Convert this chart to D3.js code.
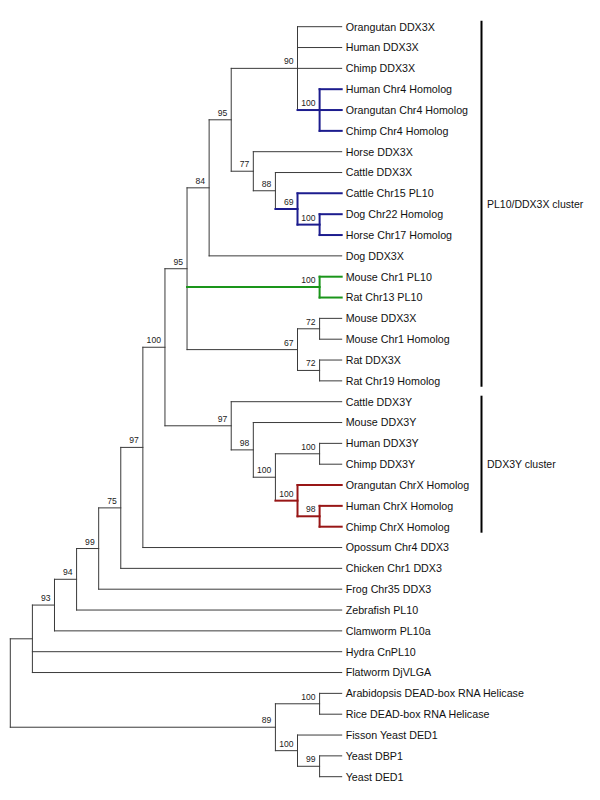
<!DOCTYPE html>
<html>
<head>
<meta charset="utf-8">
<script src="https://cdn.jsdelivr.net/npm/d3@7"></script>
<style>
  html, body { margin: 0; padding: 0; background: #fff; }
  svg { display: block; font-family: "Liberation Sans", Arial, sans-serif; }
</style>
</head>
<body>
<svg id="chart" width="600" height="800"></svg>
<script>
// ---- Data ----
const leafNames = [
  "Orangutan DDX3X", "Human DDX3X", "Chimp DDX3X",
  "Human Chr4 Homolog", "Orangutan Chr4 Homolog", "Chimp Chr4 Homolog",
  "Horse DDX3X", "Cattle DDX3X", "Cattle Chr15 PL10",
  "Dog Chr22 Homolog", "Horse Chr17 Homolog", "Dog DDX3X",
  "Mouse Chr1 PL10", "Rat Chr13 PL10", "Mouse DDX3X",
  "Mouse Chr1 Homolog", "Rat DDX3X", "Rat Chr19 Homolog",
  "Cattle DDX3Y", "Mouse DDX3Y", "Human DDX3Y", "Chimp DDX3Y",
  "Orangutan ChrX Homolog", "Human ChrX Homolog", "Chimp ChrX Homolog",
  "Opossum Chr4 DDX3", "Chicken Chr1 DDX3", "Frog Chr35 DDX3",
  "Zebrafish PL10", "Clamworm PL10a", "Hydra CnPL10", "Flatworm DjVLGA",
  "Arabidopsis DEAD-box RNA Helicase", "Rice DEAD-box RNA Helicase",
  "Fisson Yeast DED1", "Yeast DBP1", "Yeast DED1"
];
const leafParents = [
  "N90", "N90", "N90",
  "N100b", "N100b", "N100b",
  "N77", "N88", "N69",
  "N100c", "N100c", "N84",
  "N100d", "N100d", "N72a",
  "N72a", "N72b", "N72b",
  "N97b", "N98a", "N100f", "N100f",
  "N100g", "N98b", "N98b",
  "N97a", "N75", "N99",
  "N94", "N93", "U", "U",
  "N100h", "N100h",
  "N100i", "N99b", "N99b"
];
const leafLevel = 15;

const nodeIds     = ["R", "U", "N93", "N94", "N99", "N75", "N97a", "N100a", "N95a", "N84", "N95b", "N90", "N100b", "N77", "N88", "N69", "N100c", "N100d", "N67", "N72a", "N72b", "N97b", "N98a", "N100e", "N100f", "N100g", "N98b", "N89", "N100h", "N100i", "N99b"];
const nodeParents = ["",  "R", "U",   "N93", "N94", "N99", "N75",  "N97a",  "N100a","N95a","N84",  "N95b","N90",   "N95b","N77", "N88", "N69",   "N95a",  "N95a","N67",  "N67",  "N100a","N97b", "N98a",  "N100e", "N100e", "N100g","R",   "N89",   "N89",   "N100i"];
const nodeLevels  = [0,   1,   2,     3,     4,     5,     6,      7,       8,      9,     10,     13,    14,      11,    12,    13,    14,      14,      13,    14,     14,     10,     11,     12,      14,      13,      14,     12,    14,      13,      14];
const nodeSupport = [null,null,93,    94,    99,    75,    97,     100,     95,     84,    95,     90,    100,     77,    88,    69,    100,     100,     67,    72,     72,     97,     98,     100,     100,     100,     98,     89,    100,     100,     99];

const blueClades  = ["N100b", "N69"];
const greenClades = ["N100d"];
const redClades   = ["N100g"];

const clusterNames = ["PL10/DDX3X cluster", "DDX3Y cluster"];
const clusterFirst = ["Orangutan DDX3X", "Cattle DDX3Y"];
const clusterLast  = ["Rat Chr19 Homolog", "Chimp ChrX Homolog"];

// ---- Build tree ----
const rows = [];
nodeIds.forEach((id, i) => rows.push({id, parentId: nodeParents[i] || null, level: nodeLevels[i], support: nodeSupport[i], leaf: false}));
leafNames.forEach((name, i) => rows.push({id: name, parentId: leafParents[i], level: leafLevel, support: null, leaf: true, index: i}));

const root = d3.stratify().id(d => d.id).parentId(d => d.parentId)(rows);

// leaf order
root.eachAfter(n => {
  if (!n.children) n.minIdx = n.data.index;
  else {
    n.children.sort((a, b) => a.minIdx - b.minIdx);
    n.minIdx = n.children[0].minIdx;
  }
});

const x = d3.scaleLinear().domain([0, leafLevel]).range([10.3, 341.7]);
const y = d3.scaleLinear().domain([0, leafNames.length - 1]).range([26.7, 776.7]);

root.eachAfter(n => {
  n.px = x(n.data.level);
  if (!n.children) n.py = y(n.data.index);
  else n.py = (n.children[0].py + n.children[n.children.length - 1].py) / 2;
});

const groupColor = {none: "#3a3a3a", blue: "#1c1c8e", green: "#1a951a", red: "#981616"};
root.eachBefore(n => {
  if (blueClades.includes(n.data.id)) n.group = "blue";
  else if (greenClades.includes(n.data.id)) n.group = "green";
  else if (redClades.includes(n.data.id)) n.group = "red";
  else n.group = n.parent ? n.parent.group : "none";
});

// ---- Segments ----
const segs = [];
root.each(n => {
  if (n.parent) segs.push({x1: n.parent.px, x2: n.px, y1: n.py, y2: n.py, g: n.group});
  if (n.children) segs.push({x1: n.px, x2: n.px, y1: n.children[0].py, y2: n.children[n.children.length - 1].py, g: n.group});
});
segs.sort((a, b) => (a.g === "none" ? 0 : 1) - (b.g === "none" ? 0 : 1));

const svg = d3.select("#chart");

svg.append("g").selectAll("line").data(segs).join("line")
  .attr("x1", d => d.x1).attr("x2", d => d.x2)
  .attr("y1", d => d.y1).attr("y2", d => d.y2)
  .attr("stroke", d => groupColor[d.g])
  .attr("stroke-width", d => d.g === "none" ? 1 : 2)
  .attr("stroke-linecap", "square");

// bootstrap labels
svg.append("g").selectAll("text").data(root.descendants().filter(n => n.data.support != null)).join("text")
  .attr("x", n => n.px - 4)
  .attr("y", n => n.py - 4)
  .attr("text-anchor", "end")
  .attr("font-size", "8.6px")
  .attr("fill", "#222")
  .text(n => n.data.support);

// leaf labels
svg.append("g").selectAll("text").data(root.leaves()).join("text")
  .attr("x", n => n.px + 4)
  .attr("y", n => n.py)
  .attr("dy", "0.36em")
  .attr("font-size", "10.7px")
  .attr("fill", "#111")
  .text(n => n.data.id);

// clusters
const barX = 481.5;
clusterNames.forEach((name, i) => {
  const y1 = y(leafNames.indexOf(clusterFirst[i])) - 6;
  const y2 = y(leafNames.indexOf(clusterLast[i])) + 6;
  svg.append("line").attr("x1", barX).attr("x2", barX).attr("y1", y1).attr("y2", y2)
    .attr("stroke", "#000").attr("stroke-width", 2);
  svg.append("text").attr("x", barX + 5.5).attr("y", (y1 + y2) / 2).attr("dy", "0.36em")
    .attr("font-size", "10.5px").attr("fill", "#111").text(name);
});
</script>
</body>
</html>
